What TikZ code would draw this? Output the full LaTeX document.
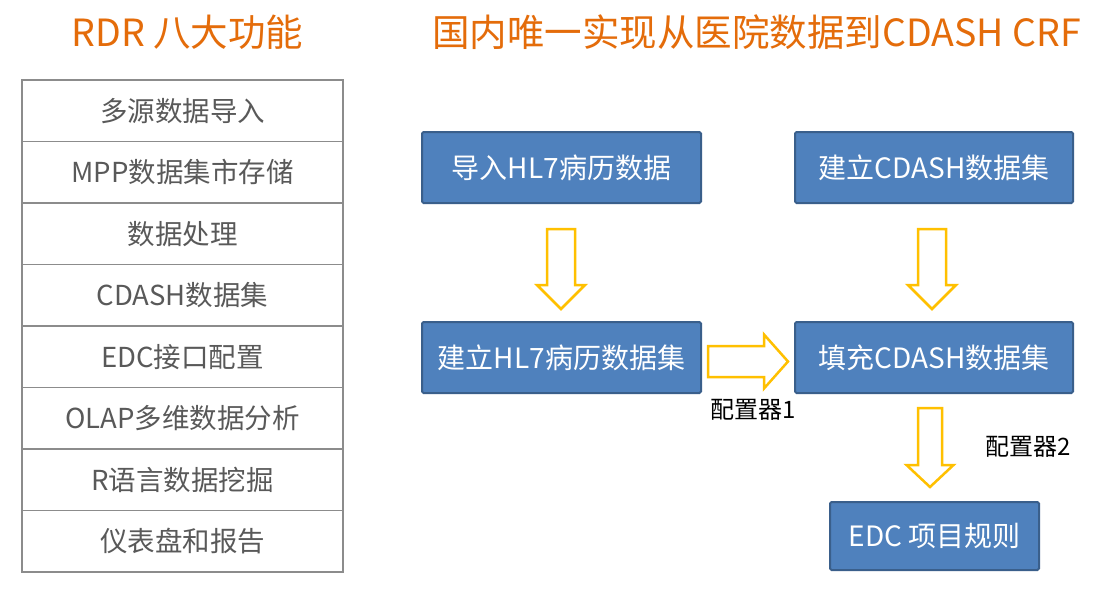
\documentclass[tikz,border=0pt]{standalone}
\usepackage{fontspec}
\setmainfont{Noto Sans CJK SC}
\definecolor{titleorange}{HTML}{E46C0A}
\definecolor{cellgray}{HTML}{8C8C8C}
\definecolor{celltext}{HTML}{595959}
\definecolor{boxfill}{HTML}{4F81BD}
\definecolor{boxline}{HTML}{3A5F8B}
\definecolor{gold}{HTML}{FFC000}
\tikzset{
  titletext/.style={text=titleorange, font=\fontsize{37.5}{41}\selectfont, inner sep=0},
  cell/.style={draw=cellgray, line width=1.5pt, minimum width=321pt, minimum height=61.5pt,
     text=celltext, font=\fontsize{27.5}{31}\selectfont, inner sep=0},
  bluebox/.style={draw=boxline, line width=2pt, fill=boxfill, rounded corners=1.5pt,
     text=white, font=\fontsize{28}{32}\selectfont, inner sep=0},
  arrowline/.style={draw=gold, line width=2.5pt, fill=white, line join=miter},
  cfglabel/.style={text=black, font=\fontsize{24}{28}\selectfont, inner sep=0},
  downarrow/.pic={\draw[arrowline] (-14,0) -- (14,0) -- (14,56) -- (24,56) -- (0,80)
     -- (-24,56) -- (-14,56) -- cycle;},
  downarrowsmall/.pic={\draw[arrowline] (-12,0) -- (12,0) -- (12,57) -- (23.5,57) -- (0,79)
     -- (-23.5,57) -- (-12,57) -- cycle;},
  rightarrow/.pic={\draw[arrowline] (0,-15.5) -- (0,15.5) -- (56,15.5) -- (56,27) -- (80,0)
     -- (56,-27) -- (56,-15.5) -- cycle;}
}
\begin{document}
\begin{tikzpicture}[x=1pt,y=-1pt]
\useasboundingbox (0,0) rectangle (1096,589);
\fill[white] (0,0) rectangle (1096,589);
% titles
\node[titletext] (t1) at (187.5,32) {RDR 八大功能};
\node[titletext] (t2) at (756.5,32) {国内唯一实现从医院数据到CDASH CRF};
% table
\node[cell] (r1) at (182.5,110.75) {多源数据导入};
\node[cell] (r2) at (182.5,172.25) {MPP数据集市存储};
\node[cell] (r3) at (182.5,233.75) {数据处理};
\node[cell] (r4) at (182.5,295.25) {CDASH数据集};
\node[cell] (r5) at (182.5,356.75) {EDC接口配置};
\node[cell] (r6) at (182.5,418.25) {OLAP多维数据分析};
\node[cell] (r7) at (182.5,479.75) {R语言数据挖掘};
\node[cell] (r8) at (182.5,541.25) {仪表盘和报告};
% blue boxes
\node[bluebox, minimum width=279pt, minimum height=71pt] (b1) at (561.5,167.5) {导入HL7病历数据};
\node[bluebox, minimum width=278pt, minimum height=71pt] (b2) at (934,167.5) {建立CDASH数据集};
\node[bluebox, minimum width=279pt, minimum height=71pt] (b3) at (561.5,357.5) {建立HL7病历数据集};
\node[bluebox, minimum width=278pt, minimum height=71pt] (b4) at (934,357.5) {填充CDASH数据集};
\node[bluebox, minimum width=209pt, minimum height=68pt] (b5) at (934.5,536) {EDC 项目规则};
% block arrows
\coordinate (a1) at (561,229);
\coordinate (a2) at (932,229);
\coordinate (a3) at (708,361.5);
\coordinate (a4) at (930,408);
\pic at (a1) {downarrow};
\pic at (a2) {downarrow};
\pic at (a3) {rightarrow};
\pic at (a4) {downarrowsmall};
% labels
\node[cfglabel] (l1) at (753,410) {配置器1};
\node[cfglabel] (l2) at (1028.5,447) {配置器2};
\end{tikzpicture}
\end{document}
